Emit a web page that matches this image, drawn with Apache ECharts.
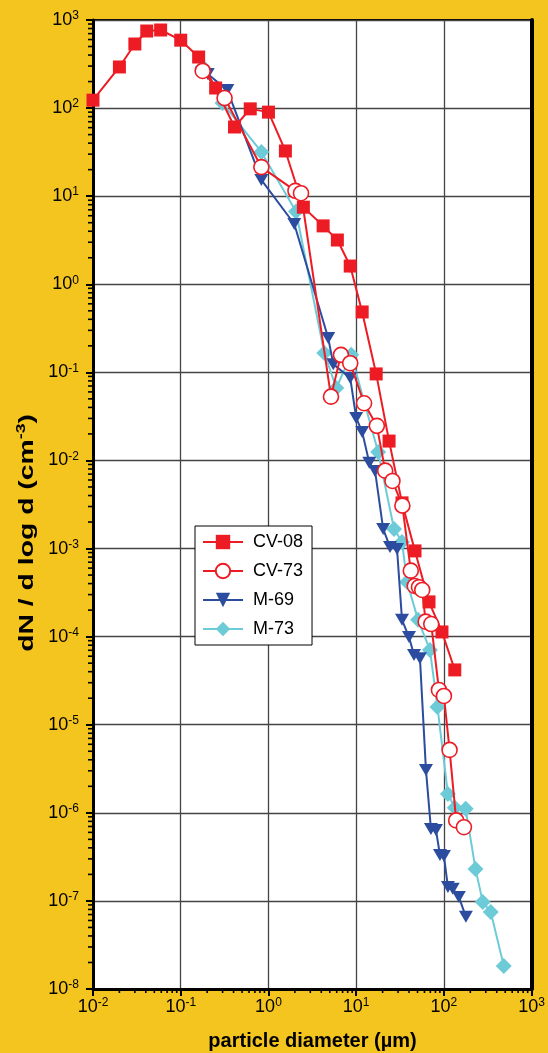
<!DOCTYPE html>
<html>
<head>
<meta charset="utf-8">
<script src="https://cdn.jsdelivr.net/npm/echarts@6/dist/echarts.min.js"></script>
<style>
html,body{margin:0;padding:0;background:#F4C41F;}
#chart{width:548px;height:1053px;}
</style>
</head>
<body>
<div id="chart"></div>
<script>
// ---- data (particle diameter in µm, dN/dlogd in cm^-3) ----
const seriesNames = ['CV-08', 'CV-73', 'M-69', 'M-73'];

const cv08X = [0.01, 0.02, 0.03, 0.041, 0.059, 0.1, 0.16, 0.25, 0.41, 0.62, 1.0, 1.56, 2.5, 4.2, 6.1, 8.55, 11.7, 16.9, 23.7, 33.3, 46.8, 67.6, 95, 133];
const cv08Y = [123, 293, 534, 750, 770, 590, 380, 169, 61, 98, 90, 32.6, 7.5, 4.6, 3.18, 1.61, 0.485, 0.096, 0.0166, 0.0033, 0.00094, 0.000248, 0.000113, 4.19e-5];

const cv73X = [0.178, 0.316, 0.83, 2.03, 2.35, 5.16, 6.7, 8.55, 12.3, 17.2, 21.4, 25.9, 33.6, 41.9, 46.5, 52, 56.6, 61.9, 71.7, 87.7, 100, 116, 138, 169];
const cv73Y = [264, 130, 21.4, 11.5, 10.8, 0.053, 0.158, 0.127, 0.0446, 0.0247, 0.00766, 0.00585, 0.00307, 0.000561, 0.000376, 0.000364, 0.000339, 0.000148, 0.000139, 2.48e-5, 2.12e-5, 5.18e-6, 8.2e-7, 6.86e-7];

const m69X = [0.203, 0.34, 0.83, 1.97, 4.8, 5.48, 8.55, 10, 11.7, 14.1, 16.4, 20.3, 24.3, 29.2, 33.3, 40, 45.6, 53.3, 62.4, 71.1, 81.1, 90.1, 100, 111, 126, 148, 178];
const m69Y = [244, 160, 15.3, 4.83, 0.246, 0.124, 0.0865, 0.0304, 0.0211, 0.0094, 0.0076, 0.00167, 0.00104, 0.00099, 0.000155, 9.9e-5, 6.2e-5, 5.7e-5, 3.07e-6, 6.56e-7, 6.4e-7, 3.33e-7, 3.24e-7, 1.44e-7, 1.37e-7, 1.11e-7, 6.6e-8];

const m73X = [0.178, 0.30, 0.83, 2.06, 4.33, 5.93, 8.77, 17.8, 27, 33.3, 38, 50.7, 69.3, 84.4, 111, 133, 177, 229, 277, 342, 481];
const m73Y = [293, 114, 31.8, 6.7, 0.166, 0.0665, 0.158, 0.0125, 0.00167, 0.00119, 0.000418, 0.000155, 7.07e-5, 1.59e-5, 1.64e-6, 1.14e-6, 1.11e-6, 2.31e-7, 9.75e-8, 7.5e-8, 1.83e-8];

const xMin = 0.01, xMax = 1000;
const yMin = 1e-8, yMax = 1000;
const xTitle = 'particle diameter (µm)';

// ---- helpers ----
function pairs(xs, ys) { return xs.map((x, i) => [x, ys[i]]); }
function powLabel(v) {
  const e = Math.round(Math.log10(v));
  return '{b|10}{s|' + e + '}';
}
const minorYTicks = [];
for (let e = -8; e < 3; e++) for (let m = 2; m <= 9; m++) minorYTicks.push([xMin, m * Math.pow(10, e)]);
const minorXTicks = [];
for (let e = -2; e < 3; e++) for (let m = 2; m <= 9; m++) minorXTicks.push([m * Math.pow(10, e), yMin]);

const FONT = 'Liberation Sans, Arial, sans-serif';
const RED = '#ED1C24', BLUE = '#2B4C9F', CYAN = '#6DCBD8', BG = '#F4C41F';

const richTick = {
  b: { fontSize: 18, lineHeight: 20, fontFamily: FONT, color: '#000' },
  s: { fontSize: 12, lineHeight: 11, verticalAlign: 'top', fontFamily: FONT, color: '#000' }
};

const chart = echarts.init(document.getElementById('chart'), null, { renderer: 'canvas' });

chart.setOption({
  animation: false,
  backgroundColor: BG,
  grid: {
    left: 93, right: 15, top: 20, bottom: 64,
    show: true, backgroundColor: '#fff', borderColor: '#000', borderWidth: 2
  },
  legend: {
    data: seriesNames,
    orient: 'vertical',
    left: 195, top: 526,
    backgroundColor: '#fff',
    borderColor: '#000', borderWidth: 1,
    borderRadius: 0,
    padding: [6, 9, 6, 7],
    itemWidth: 40, itemHeight: 18, itemGap: 9,
    textStyle: { fontSize: 18, lineHeight: 20, fontFamily: FONT, color: '#000', padding: [0, 0, 0, 5] }
  },
  xAxis: {
    type: 'log', logBase: 10, min: xMin, max: xMax, interval: 1,
    axisLine: { lineStyle: { color: '#000', width: 3 } },
    axisTick: { show: true, inside: false, length: 7, lineStyle: { color: '#000', width: 2 } },
    axisLabel: { margin: 8, formatter: powLabel, rich: richTick },
    splitLine: { show: true, lineStyle: { color: '#444', width: 1.3 } },
    minorTick: { show: false }
  },
  yAxis: [{
    type: 'log', logBase: 10, min: yMin, max: yMax, interval: 1,
    axisLine: { lineStyle: { color: '#000', width: 3 } },
    axisTick: { show: true, inside: false, length: 7, lineStyle: { color: '#000', width: 2 } },
    axisLabel: { margin: 14, formatter: powLabel, rich: richTick },
    splitLine: { show: true, lineStyle: { color: '#444', width: 1.3 } }
  }, {
    type: 'log', logBase: 10, min: yMin, max: yMax, interval: 1, position: 'right',
    axisLine: { show: true, lineStyle: { color: '#000', width: 4 } },
    axisTick: { show: false }, axisLabel: { show: false }, splitLine: { show: false }
  }],
  graphic: [{
    type: 'text', x: 312.5, y: 1041,
    style: {
      text: xTitle, font: 'bold 20px ' + FONT, fill: '#000',
      align: 'center', verticalAlign: 'middle'
    }
  }, {
    type: 'text', x: 27, y: 533, rotation: Math.PI / 2, scaleX: 1.35,
    style: {
      text: '{t|dN / d log d (cm}{s|-3}{t|)}',
      rich: {
        t: { fontSize: 21, fontWeight: 'bold', fontFamily: FONT, lineHeight: 24, fill: '#000' },
        s: { fontSize: 13, fontWeight: 'bold', fontFamily: FONT, lineHeight: 13, verticalAlign: 'top', fill: '#000' }
      },
      align: 'center', verticalAlign: 'middle'
    }
  }],
  series: [
    {
      type: 'custom', name: 'minorY', silent: true, z: 5,
      data: minorYTicks,
      renderItem: function (params, api) {
        const p = api.coord([api.value(0), api.value(1)]);
        return { type: 'line', shape: { x1: p[0] - 5, y1: p[1], x2: p[0], y2: p[1] }, style: { stroke: '#000', lineWidth: 1.6 } };
      }
    },
    {
      type: 'custom', name: 'minorX', silent: true, z: 5,
      data: minorXTicks,
      renderItem: function (params, api) {
        const p = api.coord([api.value(0), api.value(1)]);
        return { type: 'line', shape: { x1: p[0], y1: p[1], x2: p[0], y2: p[1] + 4 }, style: { stroke: '#000', lineWidth: 1.6 } };
      }
    },
    {
      name: 'M-73', type: 'line', z: 2, data: pairs(m73X, m73Y),
      symbol: 'diamond', symbolSize: 16,
      itemStyle: { color: CYAN }, lineStyle: { color: CYAN, width: 2 }
    },
    {
      name: 'M-69', type: 'line', z: 3, data: pairs(m69X, m69Y),
      symbol: 'path://M0,0L12,0L6,11Z', symbolSize: [14, 12],
      itemStyle: { color: BLUE }, lineStyle: { color: BLUE, width: 2 }
    },
    {
      name: 'CV-08', type: 'line', z: 4, data: pairs(cv08X, cv08Y),
      symbol: 'rect', symbolSize: 13,
      itemStyle: { color: RED }, lineStyle: { color: RED, width: 2 }
    },
    {
      name: 'CV-73', type: 'line', z: 5, data: pairs(cv73X, cv73Y),
      symbol: 'circle', symbolSize: 15,
      itemStyle: { color: '#fff', borderColor: RED, borderWidth: 1.6 },
      lineStyle: { color: RED, width: 2 }
    }
  ]
});
</script>
</body>
</html>
